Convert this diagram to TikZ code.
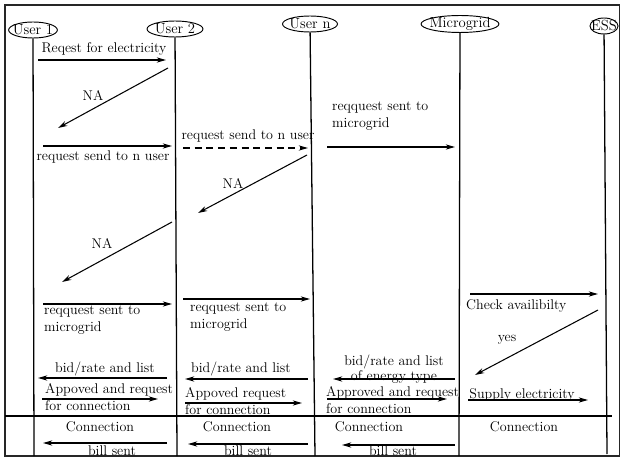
\documentclass[tikz,border=0pt]{standalone}
\usepackage{tikz}
\usetikzlibrary{arrows.meta}
\usetikzlibrary{shapes.geometric}

\begin{document}
\begin{tikzpicture}[
    x=0.03cm, y=-0.03cm,
    >=Stealth,
    actor/.style={ellipse, draw, thick, inner xsep=-2.5pt, inner ysep=-0.5pt, minimum height=0.48cm, font=\fontsize{12.5}{13}\selectfont},
    life/.style={line width=1.1pt},
    msg/.style={->, line width=0.9pt, >={Stealth[length=8pt, width=4.5pt]}},
    dmsg/.style={msg, dash pattern=on 6pt off 4pt},
    lbl/.style={inner sep=0pt, font=\fontsize{12}{14.5}\selectfont},
    mlbl/.style={lbl, align=left, anchor=north west}
]

\useasboundingbox (0,0) rectangle (620,459);

% --- Frame ---
\draw[line width=1.2pt, black!85] (5,5) rectangle (619.5,456);

% --- Participants ---
\node[actor, minimum width=1.41cm] (u1) at (33,30) {User 1};
\node[actor, minimum width=1.68cm] (u2) at (175,29) {User 2};
\node[actor, minimum width=1.65cm] (un) at (310,24) {User n};
\node[actor, minimum width=2.28cm] (mg) at (460,24) {Microgrid};
\node[actor, minimum width=0.75cm] (ess) at (604,26) {ESS};

% Lifelines
\coordinate (u1end) at (34,456);
\coordinate (u2end) at (177,456);
\coordinate (unend) at (315,456);
\coordinate (mgend) at (459,456);
\coordinate (essend) at (607,454);

\draw[life] (u1) -- (u1end);
\draw[life] (u2) -- (u2end);
\draw[life] (un) -- (unend);
\draw[life] (mg) -- (mgend);
\draw[life] (ess) -- (essend);

% --- Request phase ---
\coordinate (a1s) at (38,60);   \coordinate (a1e) at (166,60);
\coordinate (a2s) at (168,68);  \coordinate (a2e) at (58,128);
\coordinate (a3s) at (43,146);  \coordinate (a3e) at (172,146);
\coordinate (a4s) at (183,148); \coordinate (a4e) at (308,148);
\coordinate (a5s) at (327,147); \coordinate (a5e) at (455,147);
\coordinate (a6s) at (307,155); \coordinate (a6e) at (198,213);
\coordinate (a7s) at (172,222); \coordinate (a7e) at (62,282);

\draw[msg] (a1s) -- (a1e);
\draw[msg] (a2s) -- (a2e);
\draw[msg] (a3s) -- (a3e);
\draw[dmsg] (a4s) -- (a4e);
\draw[msg] (a5s) -- (a5e);
\draw[msg] (a6s) -- (a6e);
\draw[msg] (a7s) -- (a7e);

\node[lbl] (t1) at (104,49) {Reqest for electricity};
\node[lbl] (t2) at (93,95) {NA};
\node[lbl] (t3) at (103,157) {request send to n user};
\node[lbl] (t4) at (248,136) {request send to n user};
\node[mlbl] (t5) at (332,102) {reqquest sent to\\microgrid};
\node[lbl] (t6) at (233,183) {NA};
\node[lbl] (t7) at (102,243) {NA};

% --- Forwarding to the microgrid ---
\coordinate (b1s) at (43,304);  \coordinate (b1e) at (172,304);
\coordinate (b2s) at (183,299); \coordinate (b2e) at (310,299);
\coordinate (b3s) at (470,294); \coordinate (b3e) at (598,294);
\coordinate (b4s) at (598,310); \coordinate (b4e) at (475,375);

\draw[msg] (b1s) -- (b1e);
\draw[msg] (b2s) -- (b2e);
\draw[msg] (b3s) -- (b3e);
\draw[msg] (b4s) -- (b4e);

\node[mlbl] (t8) at (44,306) {reqquest sent to\\microgrid};
\node[mlbl] (t9) at (190,303) {reqquest sent to\\microgrid};
\node[mlbl] (t10) at (466,299) {Check availibilty};
\node[lbl] (t11) at (507,340) {yes};

% --- Bids and approval ---
\coordinate (c1s) at (167,378); \coordinate (c1e) at (38,378);
\coordinate (c2s) at (308,379); \coordinate (c2e) at (185,379);
\coordinate (c3s) at (455,379); \coordinate (c3e) at (333,379);
\coordinate (c4s) at (42,399);  \coordinate (c4e) at (158,399);
\coordinate (c5s) at (185,403); \coordinate (c5e) at (302,403);
\coordinate (c6s) at (327,399); \coordinate (c6e) at (447,399);
\coordinate (c7s) at (468,400); \coordinate (c7e) at (588,400);

\draw[msg] (c1s) -- (c1e);
\draw[msg] (c2s) -- (c2e);
\draw[msg] (c3s) -- (c3e);
\draw[msg] (c4s) -- (c4e);
\draw[msg] (c5s) -- (c5e);
\draw[msg] (c6s) -- (c6e);
\draw[msg] (c7s) -- (c7e);

\node[lbl] (t12) at (105,369) {bid/rate and list};
\node[lbl] (t13) at (241,369) {bid/rate and list};
\node[lbl, align=center, font=\fontsize{12}{12.5}\selectfont] (t14) at (394,369) {bid/rate and list\\of energy type};
\node[mlbl] (t15) at (45,383) {Appoved and request\\for connection};
\node[mlbl] (t16) at (185,387) {Appoved request\\for connection};
\node[mlbl] (t17) at (326,386) {Approved and request\\for connection};
\node[lbl] (t18) at (522,395) {Supply electricity};

% --- Connection and billing ---
\draw[line width=0.9pt] (5,416) -- (612,416);

\node[lbl] (k1) at (100,427) {Connection};
\node[lbl] (k2) at (237,427) {Connection};
\node[lbl] (k3) at (369,427) {Connection};
\node[lbl] (k4) at (524,427) {Connection};

\coordinate (d1s) at (167,443); \coordinate (d1e) at (43,443);
\coordinate (d2s) at (308,444); \coordinate (d2e) at (188,444);
\coordinate (d3s) at (455,445); \coordinate (d3e) at (342,445);

\draw[msg] (d1s) -- (d1e);
\draw[msg] (d2s) -- (d2e);
\draw[msg] (d3s) -- (d3e);

\node[lbl] (m1) at (112,451) {bill sent};
\node[lbl] (m2) at (248,451) {bill sent};
\node[lbl] (m3) at (393,451) {bill sent};

\end{tikzpicture}
\end{document}
